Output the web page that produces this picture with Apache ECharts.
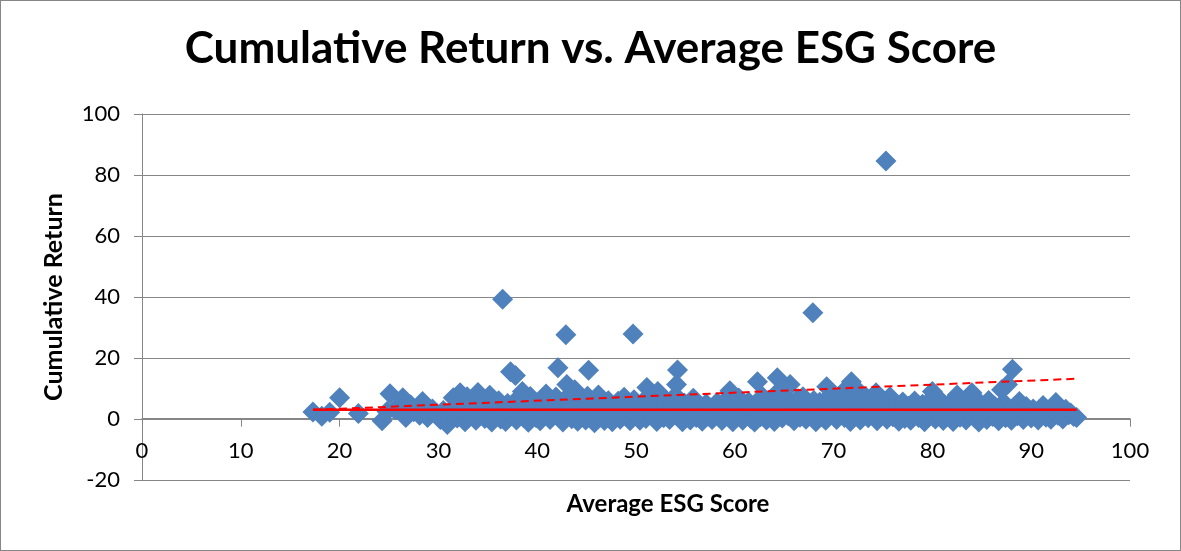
<!DOCTYPE html>
<html>
<head>
<meta charset="utf-8">
<script src="https://cdn.jsdelivr.net/npm/echarts@6/dist/echarts.min.js"></script>
<style>
  html, body { margin: 0; padding: 0; background: #fff; }
  #chart { width: 1179px; height: 549px; border: 1px solid #868686; }
</style>
</head>
<body>
<div id="chart"></div>
<script>
// [Average ESG Score, Cumulative Return], grouped by score range
const band20 = [[17.3,2.3],[18.2,0.9],[19.0,2.2],[20.0,7.0],[21.9,1.8],[24.3,-0.6],[24.8,2.5],[25.1,8.3],[25.6,3.1],[26.4,7.0],[26.7,0.5],[27.2,4.6],[27.5,2.4],[28.1,1.2],[28.4,5.7],[28.9,0.5],[29.4,3.3],[29.8,1.6]]
const band30 = [[30.2,-0.2],[30.5,2.8],[30.9,-1.8],[31.2,1.0],[31.5,7.0],[31.7,4.2],[31.9,0.3],[32.2,8.6],[32.4,2.6],[32.7,-0.9],[32.9,7.3],[33.1,5.1],[33.3,1.4],[33.6,3.6],[33.8,-0.4],[34.0,8.7],[34.2,2.1],[34.5,5.5],[34.7,0.2],[35.0,3.0],[35.2,7.8],[35.4,-1.0],[35.6,4.4],[35.9,1.8],[36.1,6.0],[36.3,0.0],[36.5,39.3],[36.6,2.9],[36.8,-0.8],[37.0,5.1],[37.3,15.5],[37.4,1.2],[37.6,3.8],[37.8,14.3],[37.9,-0.3],[38.1,6.9],[38.3,2.3],[38.5,9.0],[38.6,0.6],[38.9,4.8],[39.1,-1.1],[39.3,7.4],[39.5,2.0],[39.7,5.6],[39.9,0.4]]
const band40 = [[40.1,3.3],[40.3,-0.6],[40.5,6.2],[40.7,1.5],[40.9,8.2],[41.1,3.9],[41.3,-0.2],[41.5,5.0],[41.7,1.9],[41.9,7.2],[42.1,16.8],[42.2,0.5],[42.4,3.6],[42.6,-1.0],[42.8,6.4],[42.9,27.6],[43.0,11.3],[43.1,2.2],[43.3,4.9],[43.5,0.1],[43.8,9.6],[43.9,2.9],[44.1,-0.7],[44.3,6.7],[44.5,1.3],[44.7,4.2],[44.9,-0.3],[45.2,16.0],[45.1,7.5],[45.4,2.5],[45.6,5.6],[45.8,-1.2],[46.0,3.4],[46.2,7.9],[46.4,0.7],[46.6,4.5],[46.8,-0.5],[47.0,2.7],[47.2,6.0],[47.4,1.1],[47.6,-0.9],[47.8,4.0],[48.0,2.0],[48.2,5.8],[48.4,-0.1],[48.6,3.1],[48.8,7.1],[49.0,0.8],[49.2,4.6],[49.4,-0.6],[49.7,27.9],[49.6,2.4],[49.8,6.3]]
const band50 = [[50.0,1.4],[50.2,3.8],[50.4,-0.4],[50.6,5.3],[50.8,2.1],[51.1,10.3],[51.0,0.2],[51.3,4.4],[51.5,7.2],[51.7,1.0],[51.9,3.2],[52.2,9.0],[52.1,-0.8],[52.4,5.5],[52.6,2.4],[52.8,0.4],[53.0,6.3],[53.2,3.5],[53.4,-0.2],[53.6,1.7],[53.8,4.8],[54.1,11.3],[54.2,16.1],[54.0,7.6],[54.3,0.6],[54.5,3.0],[54.7,-0.9],[54.9,5.2],[55.1,1.9],[55.3,3.9],[55.5,-0.3],[55.8,6.8],[55.9,2.6],[56.1,0.5],[56.3,4.3],[56.5,1.4],[56.7,-0.7],[56.9,3.3],[57.1,5.0],[57.3,0.9],[57.5,2.5],[57.7,-0.2],[57.9,4.1],[58.2,5.4],[58.3,1.6],[58.5,3.0],[58.7,-0.5],[58.9,2.2],[59.1,6.2],[59.5,9.3],[59.4,0.8],[59.6,3.7],[59.8,-0.9]]
const band60 = [[60.0,4.6],[60.2,1.3],[60.4,6.9],[60.6,2.8],[60.8,-0.4],[61.0,4.0],[61.2,1.8],[61.4,5.6],[61.6,0.2],[61.8,3.3],[62.0,-1.0],[62.3,12.2],[62.2,2.4],[62.4,4.9],[62.6,0.7],[62.8,7.4],[63.0,2.0],[63.2,-0.3],[63.4,5.2],[63.6,1.5],[63.8,3.6],[64.0,-0.8],[64.3,13.5],[64.2,8.4],[64.4,2.7],[64.6,5.9],[64.8,0.3],[65.0,3.9],[65.2,9.7],[65.6,11.3],[65.4,1.1],[65.8,5.1],[66.0,-0.6],[66.2,2.9],[66.4,6.6],[66.6,0.6],[66.9,7.3],[67.0,3.4],[67.2,-0.1],[67.4,4.7],[67.6,1.7],[67.9,34.8],[67.8,2.6],[68.0,6.1],[68.2,-0.9],[68.4,3.1],[68.6,5.5],[68.8,0.9],[69.0,2.3],[69.3,10.6],[69.2,-0.4],[69.5,4.3],[69.7,7.8],[69.9,1.4]]
const band70 = [[70.1,3.7],[70.3,-0.2],[70.5,6.4],[70.7,2.0],[70.9,8.7],[71.1,0.5],[71.3,4.6],[71.5,2.8],[71.8,12.2],[71.7,-0.8],[71.9,6.8],[72.1,1.2],[72.3,3.9],[72.5,9.2],[72.7,-0.3],[72.9,5.3],[73.1,2.3],[73.3,7.1],[73.5,0.4],[73.7,4.0],[73.9,1.6],[74.1,6.0],[74.3,8.6],[74.4,-0.6],[74.6,3.2],[74.8,1.0],[75.0,5.1],[75.3,84.6],[75.2,2.5],[75.4,-0.1],[75.7,7.3],[75.8,3.6],[76.0,0.7],[76.2,4.5],[76.4,1.9],[76.6,-0.7],[76.8,3.0],[77.0,5.6],[77.2,0.2],[77.4,2.6],[77.6,4.2],[77.8,-0.4],[78.0,1.5],[78.2,5.9],[78.4,3.3],[78.6,0.5],[78.8,2.1],[79.0,4.8],[79.2,-0.9],[79.4,3.5],[79.6,1.2],[79.8,6.3]]
const band80 = [[80.0,9.0],[80.1,2.7],[80.3,0.0],[80.5,4.4],[80.7,1.8],[80.9,5.8],[81.1,-0.5],[81.3,3.1],[81.5,1.0],[81.7,4.9],[81.9,2.3],[82.1,-0.8],[82.3,6.5],[82.5,7.9],[82.6,3.6],[82.8,0.6],[83.0,2.0],[83.2,5.3],[83.4,-0.3],[83.6,3.9],[83.8,1.4],[84.0,8.6],[84.1,4.6],[84.3,0.3],[84.5,2.6],[84.7,-1.0],[84.9,5.0],[85.1,1.7],[85.3,3.4],[85.5,-0.2],[85.7,6.1],[85.9,2.2],[86.1,0.8],[86.3,4.2],[86.5,1.3],[86.7,-0.6],[86.9,3.0],[87.0,9.6],[87.6,11.3],[88.1,16.3],[87.2,5.4],[87.4,0.4],[87.8,2.5],[88.0,-0.4],[88.3,4.0],[88.8,5.7],[88.6,1.1],[89.0,2.8],[89.2,-0.2],[89.5,4.1],[89.7,1.5]]
const band90 = [[90.0,0.3],[90.2,3.3],[90.5,1.0],[90.7,-0.3],[91.0,2.4],[91.2,4.4],[91.5,0.6],[91.8,2.0],[92.0,-0.1],[92.2,3.6],[92.5,5.4],[92.7,1.2],[93.0,2.6],[93.2,0.0],[93.5,3.2],[93.8,1.4],[94.0,2.0],[94.3,0.8],[94.6,0.5]]

// trend lines (red): linear fit (dashed) and flat average (solid)
const trendLinear = [[17.3,3.0],[94.6,13.2]]
const trendFlat = [[17.3,3.0],[94.6,3.0]]

const yTicks = [-20, 0, 20, 40, 60, 80, 100]

const chart = echarts.init(document.getElementById('chart'))
const font = 'Lato, "Open Sans", sans-serif'

// plot box in px; the x axis is drawn across y = 0 like Excel does
const gridTop = 113, gridBottom = 70
const plotH = 551 - gridTop - gridBottom
const zeroOffset = -plotH * (0 - yTicks[0]) / (yTicks[yTicks.length - 1] - yTicks[0])

const option = {
  animation: false,
  title: {
    text: 'Cumulative Return vs. Average ESG Score',
    left: 'center',
    top: 21,
    textStyle: { fontFamily: font, fontSize: 44, fontWeight: 'bold', color: '#000' }
  },
  grid: { left: 141, right: 50, top: gridTop, bottom: gridBottom, containLabel: false },
  xAxis: {
    type: 'value',
    min: 0, max: 100, interval: 10,
    position: 'bottom',
    offset: zeroOffset,
    axisLine: { onZero: false, lineStyle: { color: '#868686', width: 1 } },
    axisTick: { show: true, length: 8, lineStyle: { color: '#868686' } },
    axisLabel: { margin: 21, fontFamily: font, fontSize: 22, color: '#000' },
    splitLine: { show: false }
  },
  yAxis: {
    type: 'value',
    min: yTicks[0], max: yTicks[yTicks.length - 1], interval: 20,
    name: 'Cumulative Return',
    nameLocation: 'middle',
    nameGap: 76,
    nameTextStyle: { fontFamily: font, fontSize: 25, fontWeight: 'bold', color: '#000' },
    axisLine: { show: true, onZero: false, lineStyle: { color: '#868686', width: 1 } },
    axisTick: { show: true, length: 8, lineStyle: { color: '#868686' } },
    axisLabel: { margin: 22, fontFamily: font, fontSize: 22, color: '#000' },
    splitLine: { show: true, lineStyle: { color: '#868686', width: 1 } }
  },
  graphic: [{
    type: 'text',
    x: 667, y: 503,
    style: {
      text: 'Average ESG Score', font: 'bold 24px ' + font, fill: '#000',
      align: 'center', verticalAlign: 'middle'
    }
  }],
  series: [
    {
      type: 'scatter',
      symbol: 'diamond',
      symbolSize: 21,
      itemStyle: { color: '#4F81BD', opacity: 1 },
      data: [].concat(band20, band30, band40, band50, band60, band70, band80, band90)
    },
    {
      type: 'line',
      showSymbol: false,
      data: trendLinear,
      lineStyle: { color: '#FF0000', width: 2, type: [8, 5] }
    },
    {
      type: 'line',
      showSymbol: false,
      data: trendFlat,
      lineStyle: { color: '#FF0000', width: 2.5 }
    }
  ]
}
chart.setOption(option, true)
</script>
</body>
</html>
